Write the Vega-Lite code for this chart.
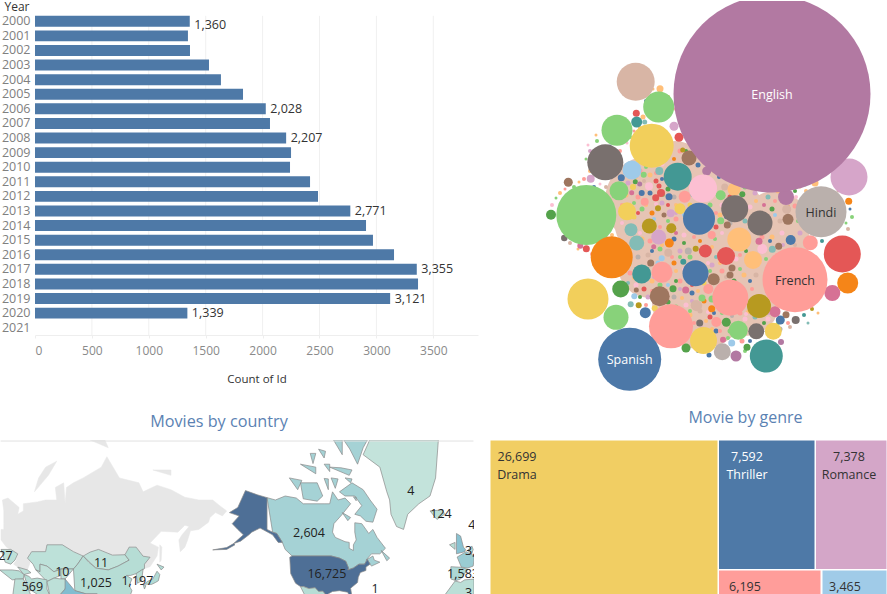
{"$schema":"https://vega.github.io/schema/vega-lite/v6.json","padding":0,"background":"white","columns":2,"spacing":{"row":39,"column":10},"bounds":"flush","config":{"view":{"stroke":null},"font":"Open Sans","text":{"font":"Open Sans"}},
"datasets":{"years":[{"Year":"2000","Movies":1360},{"Year":"2001","Movies":1344},{"Year":"2002","Movies":1362},{"Year":"2003","Movies":1529},{"Year":"2004","Movies":1634},{"Year":"2005","Movies":1828},{"Year":"2006","Movies":2028},{"Year":"2007","Movies":2065},{"Year":"2008","Movies":2207},{"Year":"2009","Movies":2250},{"Year":"2010","Movies":2241},{"Year":"2011","Movies":2417},{"Year":"2012","Movies":2487},{"Year":"2013","Movies":2771},{"Year":"2014","Movies":2909},{"Year":"2015","Movies":2970},{"Year":"2016","Movies":3155},{"Year":"2017","Movies":3355},{"Year":"2018","Movies":3366},{"Year":"2019","Movies":3121},{"Year":"2020","Movies":1339},{"Year":"2021","Movies":0}],
"blob":[{"x":700,"y":240,"n":22500},{"x":650,"y":200,"n":8100},{"x":700,"y":300,"n":9216},{"x":745,"y":300,"n":4900},{"x":775,"y":225,"n":4900},{"x":650,"y":265,"n":4096},{"x":640,"y":225,"n":2500},{"x":790,"y":240,"n":1600},{"x":675,"y":170,"n":3600}],
"dots":[{"x":668,"y":152,"n":25,"c":5},{"x":680,"y":150,"n":25,"c":11},{"x":694,"y":152,"n":16,"c":3},{"x":662,"y":163,"n":25,"c":15},{"x":698,"y":164,"n":25,"c":0},{"x":640,"y":170,"n":25,"c":11},{"x":650,"y":174,"n":25,"c":3},{"x":628,"y":182,"n":25,"c":17},{"x":644,"y":180,"n":16,"c":19},{"x":656,"y":180,"n":25,"c":10},{"x":668,"y":188,"n":25,"c":4},{"x":692,"y":194,"n":16,"c":9},{"x":626,"y":194,"n":25,"c":3},{"x":638,"y":196,"n":25,"c":11},{"x":650,"y":192,"n":25,"c":0},{"x":662,"y":202,"n":25,"c":17},{"x":674,"y":196,"n":25,"c":13},{"x":690,"y":204,"n":25,"c":7},{"x":710,"y":204,"n":25,"c":5},{"x":722,"y":204,"n":25,"c":15},{"x":714,"y":170,"n":16,"c":3},{"x":730,"y":196,"n":25,"c":10},{"x":745,"y":186,"n":25,"c":5},{"x":755,"y":192,"n":25,"c":17},{"x":768,"y":196,"n":25,"c":9},{"x":778,"y":190,"n":25,"c":3},{"x":630,"y":206,"n":25,"c":13},{"x":642,"y":208,"n":25,"c":5},{"x":652,"y":212,"n":25,"c":2},{"x":664,"y":214,"n":25,"c":18},{"x":676,"y":218,"n":25,"c":11},{"x":684,"y":214,"n":16,"c":1},{"x":720,"y":214,"n":25,"c":3},{"x":750,"y":206,"n":25,"c":15},{"x":772,"y":208,"n":25,"c":4},{"x":780,"y":220,"n":25,"c":19},{"x":795,"y":205,"n":25,"c":11},{"x":634,"y":216,"n":25,"c":7},{"x":622,"y":222,"n":16,"c":15},{"x":642,"y":238,"n":25,"c":3},{"x":650,"y":240,"n":25,"c":11},{"x":660,"y":248,"n":25,"c":5},{"x":674,"y":238,"n":25,"c":0},{"x":684,"y":234,"n":25,"c":15},{"x":680,"y":250,"n":25,"c":17},{"x":716,"y":226,"n":25,"c":10},{"x":730,"y":222,"n":25,"c":13},{"x":745,"y":220,"n":25,"c":9},{"x":772,"y":236,"n":25,"c":3},{"x":782,"y":232,"n":25,"c":15},{"x":800,"y":232,"n":25,"c":17},{"x":762,"y":236,"n":25,"c":11},{"x":790,"y":250,"n":25,"c":10},{"x":800,"y":252,"n":16,"c":4},{"x":638,"y":256,"n":25,"c":13},{"x":648,"y":254,"n":25,"c":19},{"x":658,"y":262,"n":25,"c":1},{"x":674,"y":262,"n":25,"c":2},{"x":690,"y":256,"n":25,"c":5},{"x":712,"y":264,"n":25,"c":17},{"x":722,"y":270,"n":25,"c":11},{"x":736,"y":258,"n":25,"c":15},{"x":744,"y":274,"n":25,"c":3},{"x":756,"y":274,"n":25,"c":19},{"x":734,"y":280,"n":25,"c":4},{"x":716,"y":292,"n":25,"c":9},{"x":630,"y":272,"n":25,"c":11},{"x":652,"y":280,"n":25,"c":3},{"x":660,"y":284,"n":25,"c":5},{"x":680,"y":280,"n":25,"c":11},{"x":674,"y":296,"n":25,"c":13},{"x":692,"y":292,"n":25,"c":0},{"x":704,"y":282,"n":25,"c":7},{"x":636,"y":284,"n":25,"c":15},{"x":628,"y":282,"n":16,"c":9},{"x":648,"y":296,"n":25,"c":17},{"x":644,"y":288,"n":25,"c":10},{"x":646,"y":304,"n":16,"c":11},{"x":676,"y":306,"n":25,"c":5},{"x":686,"y":304,"n":25,"c":15},{"x":704,"y":300,"n":25,"c":2},{"x":710,"y":316,"n":25,"c":10},{"x":690,"y":314,"n":25,"c":3},{"x":668,"y":301,"n":25,"c":4},{"x":700,"y":310,"n":25,"c":19},{"x":740,"y":312,"n":25,"c":11},{"x":755,"y":316,"n":25,"c":9},{"x":768,"y":318,"n":25,"c":15},{"x":790,"y":326,"n":16,"c":19},{"x":804,"y":314,"n":16,"c":8},{"x":812,"y":308,"n":16,"c":6},{"x":702,"y":328,"n":25,"c":17},{"x":716,"y":330,"n":25,"c":0},{"x":730,"y":330,"n":25,"c":5},{"x":745,"y":318,"n":25,"c":15},{"x":725,"y":347,"n":16,"c":11},{"x":698,"y":350,"n":16,"c":0},{"x":742,"y":340,"n":25,"c":11},{"x":756,"y":345,"n":16,"c":3},{"x":780,"y":328,"n":25,"c":13},{"x":560,"y":192,"n":16,"c":3},{"x":552,"y":204,"n":16,"c":15},{"x":574,"y":186,"n":16,"c":5},{"x":584,"y":178,"n":16,"c":11},{"x":594,"y":186,"n":16,"c":0},{"x":606,"y":186,"n":16,"c":19},{"x":590,"y":150,"n":16,"c":17},{"x":590,"y":170,"n":16,"c":3},{"x":597,"y":140,"n":16,"c":5},{"x":620,"y":150,"n":16,"c":11},{"x":630,"y":136,"n":16,"c":5},{"x":640,"y":127,"n":16,"c":3},{"x":646,"y":100,"n":16,"c":0},{"x":668,"y":96,"n":16,"c":6},{"x":676,"y":108,"n":16,"c":11},{"x":680,"y":118,"n":16,"c":15},{"x":570,"y":242,"n":16,"c":19},{"x":592,"y":253,"n":16,"c":11},{"x":600,"y":240,"n":16,"c":5},{"x":612,"y":234,"n":16,"c":3},{"x":852,"y":216,"n":16,"c":5},{"x":848,"y":228,"n":16,"c":19},{"x":805,"y":183,"n":25,"c":9},{"x":795,"y":190,"n":16,"c":4},{"x":822,"y":240,"n":16,"c":8},
{"x":674,"y":158,"n":16,"c":2},{"x":686,"y":150,"n":16,"c":4},{"x":702,"y":158,"n":16,"c":15},{"x":646,"y":166,"n":16,"c":5},{"x":656,"y":172,"n":16,"c":11},{"x":636,"y":176,"n":16,"c":3},{"x":662,"y":178,"n":16,"c":0},{"x":622,"y":204,"n":16,"c":11},{"x":634,"y":202,"n":16,"c":5},{"x":646,"y":204,"n":16,"c":3},{"x":656,"y":203,"n":16,"c":15},{"x":668,"y":204,"n":16,"c":10},{"x":676,"y":204,"n":16,"c":3},{"x":663,"y":194,"n":16,"c":5},{"x":676,"y":212,"n":16,"c":17},{"x":686,"y":222,"n":16,"c":7},{"x":654,"y":218,"n":16,"c":1},{"x":638,"y":212,"n":16,"c":10},{"x":668,"y":220,"n":16,"c":5},{"x":660,"y":226,"n":16,"c":11},{"x":640,"y":232,"n":16,"c":15},{"x":662,"y":244,"n":16,"c":3},{"x":676,"y":232,"n":16,"c":14},{"x":684,"y":242,"n":16,"c":4},{"x":694,"y":236,"n":16,"c":11},{"x":700,"y":240,"n":16,"c":2},{"x":715,"y":238,"n":16,"c":5},{"x":722,"y":232,"n":16,"c":15},{"x":716,"y":212,"n":16,"c":11},{"x":726,"y":216,"n":16,"c":0},{"x":712,"y":246,"n":16,"c":3},{"x":716,"y":256,"n":16,"c":9},{"x":740,"y":254,"n":16,"c":11},{"x":746,"y":250,"n":16,"c":4},{"x":770,"y":240,"n":16,"c":0},{"x":766,"y":258,"n":16,"c":5},{"x":777,"y":254,"n":16,"c":11},{"x":756,"y":200,"n":16,"c":3},{"x":764,"y":204,"n":16,"c":14},{"x":775,"y":214,"n":16,"c":1},{"x":750,"y":226,"n":16,"c":5},{"x":775,"y":200,"n":16,"c":11},{"x":788,"y":206,"n":16,"c":2},{"x":798,"y":220,"n":16,"c":5},{"x":796,"y":196,"n":16,"c":15},{"x":806,"y":190,"n":16,"c":3},{"x":795,"y":244,"n":16,"c":19},{"x":783,"y":244,"n":16,"c":17},{"x":652,"y":250,"n":16,"c":0},{"x":672,"y":256,"n":16,"c":11},{"x":680,"y":256,"n":16,"c":5},{"x":684,"y":268,"n":16,"c":15},{"x":676,"y":270,"n":16,"c":3},{"x":680,"y":288,"n":16,"c":17},{"x":668,"y":284,"n":16,"c":1},{"x":676,"y":280,"n":16,"c":4},{"x":692,"y":284,"n":16,"c":10},{"x":698,"y":290,"n":16,"c":3},{"x":710,"y":270,"n":16,"c":5},{"x":720,"y":262,"n":16,"c":3},{"x":708,"y":262,"n":16,"c":15},{"x":726,"y":276,"n":16,"c":19},{"x":740,"y":268,"n":16,"c":5},{"x":750,"y":280,"n":16,"c":0},{"x":752,"y":288,"n":16,"c":11},{"x":630,"y":262,"n":16,"c":5},{"x":634,"y":277,"n":16,"c":3},{"x":654,"y":276,"n":16,"c":17},{"x":640,"y":296,"n":16,"c":4},{"x":652,"y":290,"n":16,"c":11},{"x":645,"y":280,"n":16,"c":15},{"x":672,"y":306,"n":16,"c":10},{"x":682,"y":297,"n":16,"c":3},{"x":692,"y":300,"n":16,"c":17},{"x":690,"y":310,"n":16,"c":5},{"x":706,"y":320,"n":16,"c":3},{"x":694,"y":322,"n":16,"c":11},{"x":708,"y":311,"n":16,"c":15},{"x":714,"y":312,"n":16,"c":0},{"x":722,"y":312,"n":16,"c":5},{"x":732,"y":315,"n":16,"c":13},{"x":748,"y":311,"n":16,"c":3},{"x":764,"y":322,"n":16,"c":4},{"x":769,"y":312,"n":16,"c":17},{"x":746,"y":313,"n":16,"c":15},{"x":712,"y":328,"n":16,"c":3},{"x":720,"y":330,"n":16,"c":11},{"x":728,"y":337,"n":16,"c":5},{"x":712,"y":345,"n":16,"c":15},{"x":728,"y":352,"n":16,"c":3},{"x":745,"y":350,"n":16,"c":5},{"x":750,"y":340,"n":16,"c":0},{"x":778,"y":322,"n":16,"c":5},{"x":788,"y":322,"n":16,"c":11},{"x":565,"y":188,"n":9,"c":11},{"x":556,"y":197,"n":9,"c":5},{"x":579,"y":181,"n":9,"c":3},{"x":600,"y":183,"n":9,"c":15},{"x":586,"y":158,"n":9,"c":5},{"x":588,"y":144,"n":9,"c":15},{"x":596,"y":134,"n":9,"c":3},{"x":610,"y":145,"n":9,"c":0},{"x":627,"y":142,"n":9,"c":15},{"x":634,"y":130,"n":9,"c":11},{"x":646,"y":92,"n":9,"c":5},{"x":653,"y":88,"n":9,"c":3},{"x":672,"y":102,"n":9,"c":15},{"x":578,"y":248,"n":9,"c":3},{"x":572,"y":236,"n":9,"c":5},{"x":606,"y":236,"n":9,"c":11},{"x":850,"y":208,"n":9,"c":0},{"x":846,"y":222,"n":9,"c":5},{"x":800,"y":186,"n":9,"c":3},{"x":838,"y":190,"n":9,"c":19},{"x":808,"y":322,"n":9,"c":9},{"x":818,"y":312,"n":9,"c":3}],
"bubbles":[{"x":660,"y":87.7,"n":49,"c":3},{"x":636.3,"y":112.3,"n":49,"c":10},{"x":636.7,"y":121,"n":121,"c":8},{"x":644.7,"y":121,"n":25,"c":9},{"x":643,"y":116,"n":25,"c":3},{"x":674,"y":125.3,"n":81,"c":17},{"x":679,"y":136.3,"n":81,"c":10},{"x":621.3,"y":176.7,"n":49,"c":0},{"x":643.7,"y":173.7,"n":36,"c":5},{"x":568.3,"y":181.3,"n":81,"c":18},{"x":590.7,"y":177.7,"n":64,"c":17},{"x":635.3,"y":180.7,"n":25,"c":4},{"x":659.3,"y":170,"n":64,"c":9},{"x":682.7,"y":149,"n":25,"c":6},{"x":661,"y":192,"n":64,"c":10},{"x":655.7,"y":196.7,"n":49,"c":10},{"x":659,"y":185,"n":25,"c":10},{"x":649,"y":185.3,"n":64,"c":15},{"x":644.7,"y":200.7,"n":64,"c":11},{"x":658,"y":207.3,"n":36,"c":6},{"x":670.7,"y":212.3,"n":64,"c":17},{"x":641.7,"y":192,"n":36,"c":0},{"x":669,"y":195.7,"n":49,"c":0},{"x":631.7,"y":191.7,"n":25,"c":14},{"x":633,"y":186,"n":36,"c":7},{"x":639.7,"y":183,"n":25,"c":16},{"x":551,"y":213.7,"n":100,"c":4},{"x":586.3,"y":247.7,"n":49,"c":10},{"x":580.3,"y":244.7,"n":36,"c":14},{"x":564.3,"y":237,"n":42,"c":12},{"x":650.7,"y":262,"n":49,"c":18},{"x":668.3,"y":251.7,"n":64,"c":19},{"x":688.3,"y":250,"n":49,"c":13},{"x":695.7,"y":247.7,"n":36,"c":6},{"x":683.3,"y":260.7,"n":36,"c":8},{"x":661.7,"y":257.3,"n":36,"c":1},{"x":653.7,"y":245.7,"n":25,"c":14},{"x":673,"y":287.7,"n":49,"c":4},{"x":685.7,"y":289,"n":49,"c":14},{"x":634.3,"y":295.3,"n":36,"c":1},{"x":638.7,"y":304.3,"n":36,"c":6},{"x":654.7,"y":307.3,"n":36,"c":7},{"x":630.7,"y":303.3,"n":36,"c":9},{"x":636.3,"y":289,"n":25,"c":18},{"x":686,"y":347,"n":81,"c":4},{"x":699.7,"y":322,"n":49,"c":12},{"x":695.7,"y":304.3,"n":100,"c":19},{"x":702,"y":297,"n":49,"c":5},{"x":848.7,"y":200.3,"n":49,"c":2},{"x":786.7,"y":208.3,"n":81,"c":19},{"x":790.7,"y":239,"n":100,"c":0},{"x":762.3,"y":248,"n":100,"c":15},{"x":772.3,"y":248.3,"n":49,"c":9},{"x":778.7,"y":245.3,"n":49,"c":18},{"x":759,"y":240.3,"n":49,"c":14},{"x":732,"y":267,"n":49,"c":18},{"x":730,"y":274,"n":49,"c":18},{"x":708.3,"y":288,"n":100,"c":11},{"x":712,"y":298,"n":49,"c":5},{"x":711.7,"y":307.7,"n":49,"c":2},{"x":786,"y":313.7,"n":49,"c":18},{"x":795.7,"y":319,"n":64,"c":12},{"x":780.3,"y":319,"n":81,"c":0},{"x":775,"y":310.7,"n":121,"c":14},{"x":726.3,"y":321.3,"n":81,"c":4},{"x":716.3,"y":321,"n":100,"c":11},{"x":747,"y":346.3,"n":49,"c":4},{"x":731.7,"y":342,"n":49,"c":1},{"x":781,"y":341,"n":36,"c":16},{"x":723,"y":338.7,"n":36,"c":14},{"x":709,"y":354,"n":25,"c":0},{"x":724.7,"y":186,"n":49,"c":19},{"x":742.3,"y":193.3,"n":36,"c":4},{"x":727.3,"y":224,"n":49,"c":18},{"x":720.7,"y":219.7,"n":49,"c":5},{"x":711.7,"y":234,"n":64,"c":11},{"x":696.5,"y":186,"n":25,"c":0},{"x":815,"y":182,"n":49,"c":3},{"x":719,"y":176,"n":16,"c":0},{"x":627,"y":210.3,"n":324,"c":7},{"x":620.7,"y":288,"n":289,"c":4},{"x":645.3,"y":311.7,"n":121,"c":0},{"x":631,"y":228.7,"n":169,"c":9},{"x":636.7,"y":242,"n":225,"c":9},{"x":669.3,"y":242,"n":81,"c":2},{"x":671.3,"y":227.3,"n":100,"c":6},{"x":649.3,"y":225,"n":225,"c":6},{"x":658.7,"y":236,"n":225,"c":17},{"x":680,"y":207.7,"n":121,"c":7},{"x":684.7,"y":195.7,"n":144,"c":11},{"x":689,"y":157,"n":225,"c":18},{"x":706.7,"y":170,"n":81,"c":16},{"x":720.7,"y":194.3,"n":100,"c":5},{"x":734,"y":188.3,"n":169,"c":3},{"x":705.3,"y":250,"n":169,"c":10},{"x":726,"y":255,"n":324,"c":10},{"x":753,"y":259,"n":324,"c":3},{"x":713.7,"y":278.3,"n":144,"c":18},{"x":696.7,"y":304.7,"n":121,"c":19},{"x":786,"y":196,"n":256,"c":16},{"x":788,"y":218.3,"n":121,"c":18},{"x":810.3,"y":241.7,"n":225,"c":11},{"x":832.3,"y":292,"n":256,"c":14},{"x":847.7,"y":282,"n":441,"c":2},{"x":773.3,"y":330.3,"n":289,"c":7},{"x":756.3,"y":330.3,"n":256,"c":12},{"x":738.3,"y":329.3,"n":361,"c":5},{"x":722.3,"y":350.7,"n":289,"c":13},{"x":736,"y":355,"n":121,"c":16},{"x":632,"y":169,"n":361,"c":1},{"x":619,"y":189.7,"n":361,"c":5},{"x":641.7,"y":273,"n":361,"c":8},{"x":662,"y":271.3,"n":441,"c":11},{"x":659.7,"y":295.3,"n":400,"c":18},{"x":616,"y":316.3,"n":625,"c":5},{"x":658.7,"y":106,"n":961,"c":5},{"x":617,"y":129.3,"n":961,"c":5},{"x":677.7,"y":175.7,"n":784,"c":8},{"x":703,"y":187.5,"n":784,"c":15},{"x":699,"y":217.7,"n":1024,"c":0},{"x":734.7,"y":207.7,"n":729,"c":12},{"x":760,"y":222,"n":625,"c":12},{"x":739.3,"y":238.5,"n":576,"c":3},{"x":695.5,"y":272.3,"n":676,"c":0},{"x":759,"y":305,"n":576,"c":6},{"x":730.3,"y":296.7,"n":1296,"c":11},{"x":703.5,"y":339.5,"n":729,"c":7},{"x":766.3,"y":355,"n":1089,"c":8},{"x":635.7,"y":80.7,"n":1444,"c":19},{"x":651.7,"y":144.7,"n":1936,"c":7},{"x":605.3,"y":161.3,"n":1296,"c":12},{"x":586.3,"y":214,"n":3600,"c":5},{"x":611.7,"y":256.3,"n":1764,"c":2},{"x":588,"y":298,"n":1681,"c":7},{"x":671,"y":325.3,"n":1936,"c":11},{"x":849,"y":176,"n":1369,"c":17},{"x":842.3,"y":253,"n":1369,"c":10},{"x":772,"y":93,"n":38809,"c":16,"language":"English"},{"x":821,"y":210.7,"n":2601,"c":13,"language":"Hindi"},{"x":795,"y":278.7,"n":4225,"c":11,"language":"French"},{"x":629.7,"y":358.3,"n":3969,"c":0,"language":"Spanish"}]},
"concat":[
{"width":480,"height":334,"data":{"name":"years"},"layer":[
{"data":{"values":[{"Tick":500},{"Tick":1000},{"Tick":1500},{"Tick":2000},{"Tick":2500},{"Tick":3000},{"Tick":3500}]},"mark":{"type":"rule","color":"#f0f0f0","strokeWidth":1},"encoding":{"x":{"field":"Tick","type":"quantitative"},"y":{"datum":"2000","type":"ordinal","bandPosition":0},"y2":{"value":334}}},
{"mark":{"type":"bar","color":"#4e79a7"},"encoding":{"y":{"field":"Year","type":"ordinal","scale":{"range":[13,334],"paddingInner":0.25,"paddingOuter":0.125},"axis":{"title":"Year","titleAngle":0,"titleAlign":"left","titleBaseline":"alphabetic","titleX":-31,"titleY":9,"titleFont":"Open Sans","titleFontSize":12,"titleFontWeight":"normal","titleColor":"#333333","offset":-35,"ticks":false,"domain":false,"labelPadding":5,"labelFont":"Open Sans","labelFontSize":12.5,"labelColor":"#808080","labelOverlap":false}},"x":{"field":"Movies","type":"quantitative","scale":{"domain":[0,3893],"range":[35,478],"nice":false},"axis":{"title":"Count of Id","values":[0,500,1000,1500,2000,2500,3000,3500],"grid":false,"format":"d","tickColor":"#eeeeee","tickSize":3,"domainColor":"#eeeeee","labelPadding":7,"labelFont":"Open Sans","labelFontSize":12,"labelColor":"#8a8a8a","titleFont":"Open Sans","titleFontSize":11.5,"titleFontWeight":"normal","titleColor":"#333333","titlePadding":17}}}},
{"transform":[{"filter":{"field":"Year","oneOf":["2006","2008","2013","2017","2019","2020"]}}],"mark":{"type":"text","align":"left","baseline":"middle","dx":4.5,"fontSize":12.5,"color":"#333333"},"encoding":{"y":{"field":"Year","type":"ordinal"},"x":{"field":"Movies","type":"quantitative"},"text":{"field":"Movies","type":"quantitative","format":","}}},
{"transform":[{"filter":{"field":"Year","oneOf":["2000"]}}],"mark":{"type":"text","align":"left","baseline":"middle","dx":4.5,"dy":4,"fontSize":12.5,"color":"#333333"},"encoding":{"y":{"field":"Year","type":"ordinal"},"x":{"field":"Movies","type":"quantitative"},"text":{"field":"Movies","type":"quantitative","format":","}}}
]},
{"width":397,"height":400,"layer":[
{"data":{"name":"blob"},"mark":{"type":"circle","clip":true,"opacity":1,"color":"#e6c4b4"},"encoding":{"x":{"field":"x","type":"quantitative","scale":{"domain":[490,887],"nice":false,"zero":false},"axis":null},"y":{"field":"y","type":"quantitative","scale":{"domain":[400,0],"nice":false,"zero":false},"axis":null},"size":{"field":"n","type":"quantitative","scale":{"domain":[0,40000],"range":[0,40000]},"legend":null}}},
{"data":{"name":"dots"},"mark":{"type":"circle","clip":true,"opacity":1},"encoding":{"x":{"field":"x","type":"quantitative"},"y":{"field":"y","type":"quantitative"},"size":{"field":"n","type":"quantitative"},"color":{"field":"c","type":"nominal","scale":{"domain":[0,1,2,3,4,5,6,7,8,9,10,11,12,13,14,15,16,17,18,19],"scheme":"tableau20"},"legend":null}}},
{"data":{"name":"bubbles"},"mark":{"type":"circle","clip":true,"opacity":1},"encoding":{"x":{"field":"x","type":"quantitative"},"y":{"field":"y","type":"quantitative"},"size":{"field":"n","type":"quantitative"},"color":{"field":"c","type":"nominal"}}},
{"data":{"name":"bubbles"},"transform":[{"filter":"datum.language"}],"mark":{"type":"text","fontSize":12.5,"dy":1},"encoding":{"x":{"field":"x","type":"quantitative"},"y":{"field":"y","type":"quantitative"},"text":{"field":"language"},"color":{"condition":{"test":"datum.language=='English'||datum.language=='Spanish'","value":"#ffffff"},"value":"#333333"}}}
]},
{"width":474,"height":155,"title":{"text":"Movies by country","color":"#5b82b3","fontSize":16.2,"fontWeight":"normal","font":"Open Sans","anchor":"middle","dx":-18,"offset":10},
"projection":{"type":"mercator","rotate":[163,0],"scale":79.8,"translate":[236.4,194.5],"clipExtent":[[0,0],[474,155]]},
"layer":[
{"data":{"values":[{"type":"Feature","properties":{"name":"Russia"},"geometry":{"type":"MultiPolygon","coordinates":[[[[28,56],[28,60],[30,60],[30,62],[30,66],[29,69],[33,69.5],[41,67],[40,65],[44,66],[44,68],[54,68.5],[60,69],[68,69],[67,72],[73,73],[74,68],[75,72],[80,73],[87,74],[100,76],[104,77.7],[113,74],[127,73],[130,71],[140,72.5],[150,71.5],[160,69.7],[170,69],[180,69],[-175,67.5],[-170,66],[-173,64.5],[-178,65.5],[178,64],[177,62.5],[170,60],[164,59.5],[162,56],[160,53],[156.7,51],[155.7,56],[158,58],[163,61],[160,61.5],[155,59],[143,59.3],[135,54.7],[141,53],[140,49],[135,43.7],[131,42.7],[131,45],[135,48.4],[130,48.9],[125,53],[120,53],[117,49.6],[108,49.4],[98,52],[92,50.8],[87,49.3],[80,51],[72,54],[61,54],[60,51],[50,51],[47,48],[49,46],[47,42],[40,43.5],[37,45],[39,47],[40,50],[35,52],[32,53],[28,56]]],[[[52,71],[55,74],[60,76],[68,77],[62,74.5],[57,71]]],[[[92,80],[100,81],[105,79],[98,78]]],[[[137,75.5],[150,75.5],[150,74.5],[140,73.5]]],[[[142,54],[143.5,53],[143,47],[142,46],[142,50]]]]}}]},"mark":{"type":"geoshape","fill":"#e7e7e7","stroke":"#e7e7e7","strokeWidth":0.5}},
{"data":{"values":[
{"type":"Feature","properties":{"name":"Canada","movies":2604},"geometry":{"type":"MultiPolygon","coordinates":[[[[-141,69.6],[-135,69],[-128,70],[-120,69.5],[-115,68],[-108,68],[-100,68],[-96,68],[-94,71],[-90,69],[-85,69.5],[-81,68],[-87,65],[-93,62],[-94,59],[-92,57],[-85,55.3],[-82,55],[-82,52.5],[-79,51.5],[-79,54],[-77,56],[-78,59],[-78,62.3],[-73,62],[-70,60],[-68,58.5],[-65,60],[-62,57],[-56,52.5],[-60,50],[-66,50],[-70,47],[-65,49],[-64,47],[-60,46],[-66,44],[-67,45],[-69,47.3],[-71,45],[-75,45],[-79,43],[-83,42],[-82.5,43],[-84.5,46.5],[-89,48],[-95,49],[-110,49],[-123,49],[-128,52],[-130,55],[-134,58.5],[-137,59],[-141,60]]],[[[-80,73],[-72,71.5],[-67,69],[-62,66.5],[-65,62.5],[-70,62.8],[-74,64.5],[-78,65],[-73,67.5],[-78,70],[-85,70],[-89,71],[-89,73.5]]],[[[-117,73],[-105,73],[-101,70],[-105,68.7],[-115,69.3],[-117,70]]],[[[-125,74],[-116,73.5],[-119,71.5],[-125,71.5]]],[[[-90,81],[-70,83],[-62,82],[-72,79],[-76,76.5],[-88,76.5]]],[[[-96,76],[-80,75.5],[-82,74.5],[-96,74.5]]],[[[-117,76.5],[-106,76],[-106,74.8],[-117,75]]],[[[-95,80.5],[-87,80],[-87,78],[-93,78]]],[[[-95,74],[-90,73.8],[-92,71.8],[-96,72]]],[[[-87,65.5],[-81,64],[-83,63],[-87,63.5]]],[[[-59,51.5],[-53,48],[-55,46.7],[-59,47.7]]],[[[-104,78.8],[-99,78.5],[-100,77.5],[-105,77.7]]],[[[-100,76.5],[-96,76.5],[-96,75.2],[-100,75.4]]],[[[-110,78.2],[-106,78.2],[-108,76.6],[-112,77]]],[[[-100,73.9],[-97,73.8],[-97,71.5],[-101,72]]],[[[-85,74],[-80,73.8],[-81,73],[-85,73.2]]],[[[-79,69.8],[-77,69.7],[-77,68.8],[-79,69]]]]}},
{"type":"Feature","properties":{"name":"United States","movies":16725},"geometry":{"type":"MultiPolygon","coordinates":[[[[-124.7,48.4],[-123,49],[-110,49],[-95,49],[-89,48],[-84.5,46.5],[-82.5,43],[-83,42],[-79,43],[-75,45],[-71,45],[-69,47.3],[-67,45],[-70,43.5],[-70,41.7],[-74,40.6],[-75.5,38],[-76,35],[-81,31.5],[-80,26],[-81.5,25.5],[-83,29],[-89,30],[-94,29.5],[-97,28],[-97.5,26],[-101,29.7],[-104,29.5],[-106.5,31.8],[-111,31.3],[-114.8,32.5],[-117,32.5],[-120.5,34.5],[-124,40],[-124.5,44]]],[[[-156.5,71.3],[-148,70.3],[-141,69.6],[-141,60],[-137,59],[-134,58.5],[-130,55],[-133,55],[-137,58],[-146,60.5],[-152,59],[-154,58],[-160,55.5],[-165,54.5],[-158,58],[-162,60],[-166,62],[-161,64.5],[-168,65.5],[-162,67],[-166,68.5]]],[[[-180,51.8],[-170,52.8],[-165,54.5],[-164,54],[-170,52],[-180,51.2]]]]}},
{"type":"Feature","properties":{"name":"Mexico","movies":800},"geometry":{"type":"Polygon","coordinates":[[[-117,32.5],[-114.8,32.5],[-111,31.3],[-106.5,31.8],[-104,29.5],[-101,29.7],[-97.5,26],[-97,22],[-99,20],[-110,20],[-114,28]]]}},
{"type":"Feature","properties":{"name":"Greenland","movies":4},"geometry":{"type":"Polygon","coordinates":[[[-72,78],[-60,82],[-30,83.5],[-18,80],[-20,74],[-24,70],[-32,68],[-40,65],[-43,60],[-48,61],[-52,65],[-53,69],[-55,71],[-60,76],[-68,76]]]}},
{"type":"Feature","properties":{"name":"Iceland","movies":124},"geometry":{"type":"Polygon","coordinates":[[[-24,66],[-15,66.3],[-13.5,65],[-19,63.4],[-22.5,64]]]}},
{"type":"Feature","properties":{"name":"United Kingdom","movies":5000},"geometry":{"type":"Polygon","coordinates":[[[-5,58.5],[-2,57.5],[0,53],[1.5,52],[1,51],[-5,50],[-3,53.5]]]}},
{"type":"Feature","properties":{"name":"Ireland","movies":400},"geometry":{"type":"Polygon","coordinates":[[[-10,54],[-6,55],[-6,52],[-10,51.5]]]}},
{"type":"Feature","properties":{"name":"France","movies":3322},"geometry":{"type":"Polygon","coordinates":[[[-4.5,48.5],[2,51],[8,49],[7,44],[3,43],[-1.5,43.5],[-1,46]]]}},
{"type":"Feature","properties":{"name":"Spain","movies":1583},"geometry":{"type":"Polygon","coordinates":[[[-9,43.7],[-2,43.4],[3,42.3],[0,39],[-2,37],[-5.5,36],[-9,37],[-9.5,39]]]}},
{"type":"Feature","properties":{"name":"Morocco and Algeria","movies":120},"geometry":{"type":"Polygon","coordinates":[[[-6,35.8],[-2,35],[1,36.5],[9,37],[9,30],[9,24],[-5,24],[-13,27.7],[-10,30]]]}},
{"type":"Feature","properties":{"name":"Benelux","movies":600},"geometry":{"type":"Polygon","coordinates":[[[3,51.5],[6,53.5],[7,52],[6,50],[3,51]]]}},
{"type":"Feature","properties":{"name":"Ukraine","movies":27},"geometry":{"type":"Polygon","coordinates":[[[28,52],[35,52],[40,50],[38,47],[35,45],[31,46],[28,45.5]]]}},
{"type":"Feature","properties":{"name":"Kazakhstan","movies":40},"geometry":{"type":"Polygon","coordinates":[[[47,48],[50,51],[60,51],[61,54],[72,54],[80,51],[87,49],[83,45],[80,42.5],[71,42.5],[66,41],[61,44],[56,45],[56,41],[53,42],[51,45],[49,46]]]}},
{"type":"Feature","properties":{"name":"Mongolia","movies":11},"geometry":{"type":"Polygon","coordinates":[[[87,49],[92,50.8],[98,52],[108,49.4],[117,49.6],[120,47],[112,44],[105,42],[96,43],[91,46]]]}},
{"type":"Feature","properties":{"name":"China","movies":1025},"geometry":{"type":"Polygon","coordinates":[[[80,42.5],[83,45],[87,49],[91,46],[96,43],[105,42],[112,44],[120,47],[117,49.6],[120,53],[125,53],[130,48.9],[135,48.4],[131,45],[131,42.7],[125,40],[121,39],[118,39],[122,37],[120,33],[122,30],[120,25],[110,20],[100,22],[97,28],[89,28],[81,30],[74,37]]]}},
{"type":"Feature","properties":{"name":"Korea","movies":500},"geometry":{"type":"Polygon","coordinates":[[[125,40],[130,42.5],[129,36],[126,34.5],[125,38]]]}},
{"type":"Feature","properties":{"name":"Japan","movies":1197},"geometry":{"type":"MultiPolygon","coordinates":[[[[140,45],[145,43.5],[143,42],[140,42]]],[[[140,41.3],[142,39.5],[141,36],[139,35],[136,33.8],[131,34],[133,35.5],[137,37],[139,38.5]]],[[[130,33.8],[132,33],[131,31],[130,31.5]]]]}},
{"type":"Feature","properties":{"name":"Uzbekistan and Turkmenistan","movies":10},"geometry":{"type":"Polygon","coordinates":[[[53,42],[56,41],[56,45],[61,44],[66,41],[71,42.5],[71,39],[66,37.5],[61,35.5],[54,37.5]]]}},
{"type":"Feature","properties":{"name":"Kyrgyzstan and Tajikistan","movies":10},"geometry":{"type":"Polygon","coordinates":[[[71,42.5],[80,42.5],[74,37],[71,37],[71,39]]]}},
{"type":"Feature","properties":{"name":"Iran","movies":569},"geometry":{"type":"Polygon","coordinates":[[[44.5,39.5],[48,38.5],[50,37],[54,37.5],[61,36.5],[61,31],[63,27],[57,26],[50,30],[48,30],[46,34]]]}},
{"type":"Feature","properties":{"name":"Afghanistan and Pakistan","movies":60},"geometry":{"type":"Polygon","coordinates":[[[61,35.5],[66,37.5],[71,37],[74,37],[75,34],[74,31],[70,27],[67,24.5],[62,25],[63,27],[61,31]]]}},
{"type":"Feature","properties":{"name":"India","movies":6000},"geometry":{"type":"Polygon","coordinates":[[[74,37],[81,30],[89,28],[97,28],[94,24],[89,24],[88,21],[73,21],[70,24],[70,27],[74,31],[75,34]]]}},
{"type":"Feature","properties":{"name":"Turkey","movies":500},"geometry":{"type":"Polygon","coordinates":[[[27,42],[36,42],[41,41.5],[44.5,39.5],[44,37],[36,36.5],[27,37]]]}},
{"type":"Feature","properties":{"name":"Caucasus","movies":30},"geometry":{"type":"Polygon","coordinates":[[[40,43.5],[47,42],[49.5,40.5],[44.5,39.5],[41,41.5]]]}},
{"type":"Feature","properties":{"name":"Iraq and Arabia","movies":60},"geometry":{"type":"Polygon","coordinates":[[[38,37],[44,37],[46,34],[48,30],[50,26],[52,24],[36,24],[35,31]]]}}
]},"mark":{"type":"geoshape","stroke":"#8a8a8a","strokeWidth":0.7},"encoding":{"color":{"field":"properties.movies","type":"quantitative","scale":{"type":"log","domain":[1,1000,2604,6000,16725],"range":["#c6e5dd","#b6ddd5","#a5d2d5","#82bdd0","#4e6f96"]},"legend":null}}},
{"data":{"values":[{"west":27.7,"east":7.2,"lat":79.88}]},"mark":{"type":"rule","color":"#e2e2e2","strokeWidth":1},"encoding":{"longitude":{"field":"west","type":"quantitative"},"longitude2":{"field":"east"},"latitude":{"field":"lat","type":"quantitative"},"latitude2":{"field":"lat"}}},
{"data":{"values":[{"label":"4","lon":-37.7,"lat":71.2},{"label":"124","lon":-16.1,"lat":65.1},{"label":"4","lon":6.1,"lat":61.6},{"label":"2,604","lon":-110.9,"lat":58.7},{"label":"16,725","lon":-98,"lat":39.8},{"label":"1","lon":-63.5,"lat":31},{"label":"3,322","lon":12.6,"lat":51.2},{"label":"1,583","lon":-0.3,"lat":39.8},{"label":"3,120","lon":12.6,"lat":28.6},{"label":"27","lon":31.2,"lat":49},{"label":"10","lon":72,"lat":41},{"label":"11","lon":99.8,"lat":45.8},{"label":"569","lon":50.5,"lat":32.4},{"label":"1,025","lon":96.2,"lat":34.4},{"label":"1,197","lon":125.9,"lat":35.8}]},"mark":{"type":"text","clip":true,"fontSize":12.5,"color":"#222222"},"encoding":{"longitude":{"field":"lon","type":"quantitative"},"latitude":{"field":"lat","type":"quantitative"},"text":{"field":"label"}}}
]},
{"width":397,"height":155,"title":{"text":"Movie by genre","color":"#5b82b3","fontSize":16,"fontWeight":"normal","font":"Open Sans","anchor":"middle","dx":57,"offset":14},
"layer":[
{"data":{"values":[{"genre":"Drama","movies":26699,"x0":0,"x1":228,"y0":0,"y1":155},{"genre":"Thriller","movies":7592,"x0":228.5,"x1":325,"y0":0,"y1":129.5},{"genre":"Romance","movies":7378,"x0":325.5,"x1":397,"y0":0,"y1":129.5},{"genre":"Action","movies":6195,"x0":228.5,"x1":331,"y0":130,"y1":155},{"genre":"Crime","movies":3465,"x0":332,"x1":397,"y0":130,"y1":155}]},"mark":{"type":"rect","stroke":"white","strokeWidth":1},"encoding":{"x":{"field":"x0","type":"quantitative","scale":{"domain":[0,397],"nice":false},"axis":null},"x2":{"field":"x1"},"y":{"field":"y0","type":"quantitative","scale":{"domain":[155,0],"nice":false},"axis":null},"y2":{"field":"y1"},"color":{"field":"genre","type":"nominal","scale":{"domain":["Drama","Thriller","Romance","Action","Crime"],"range":["#f1ce63","#4e79a7","#d4a6c8","#ff9d9a","#a0cbe8"]},"legend":null}}},
{"data":{"values":[{"label":"26,699","x0":27,"y0":17},{"label":"Drama","x0":27,"y0":34.5},{"label":"7,592","x0":257,"y0":17},{"label":"Thriller","x0":257,"y0":34.5},{"label":"7,378","x0":359,"y0":17},{"label":"Romance","x0":359,"y0":34.5},{"label":"6,195","x0":255,"y0":147},{"label":"3,465","x0":355,"y0":147}]},"mark":{"type":"text","fontSize":12.5},"encoding":{"x":{"field":"x0","type":"quantitative"},"y":{"field":"y0","type":"quantitative"},"text":{"field":"label"},"color":{"condition":{"test":"datum.label=='7,592'||datum.label=='Thriller'","value":"#ffffff"},"value":"#333333"}}}
]}
]}
